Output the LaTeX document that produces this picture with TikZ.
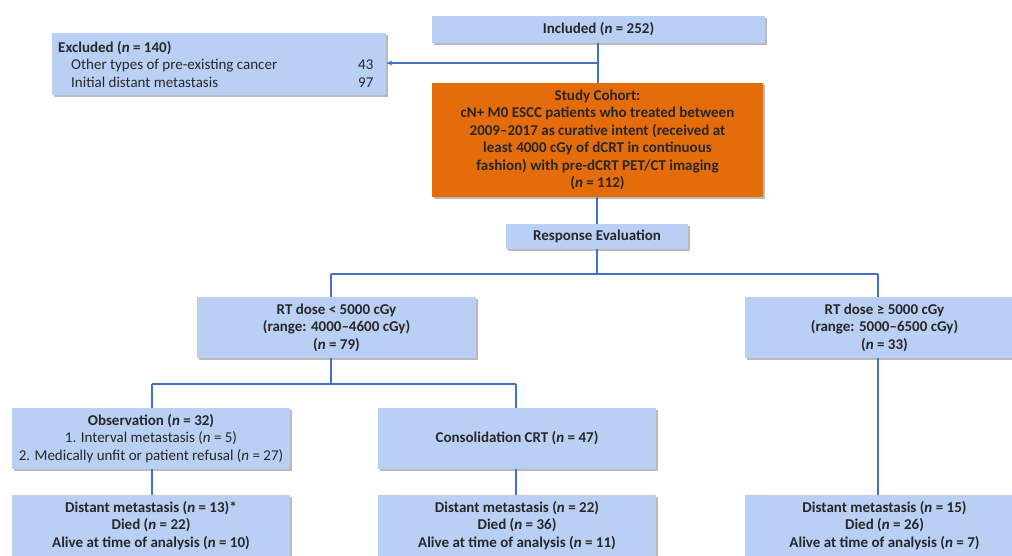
\documentclass[tikz,border=0pt]{standalone}
\usepackage{fontspec}
\setmainfont{Carlito}
\usetikzlibrary{shadows,arrows.meta}
\definecolor{boxblue}{RGB}{185,207,243}
\definecolor{cohortorange}{RGB}{228,108,10}
\definecolor{lineblue}{RGB}{68,114,196}
\definecolor{txt}{RGB}{40,40,40}
\tikzset{
  box/.style={rectangle, fill=boxblue, inner sep=0pt, align=center, text=txt,
    font=\fontsize{15}{17.5}\selectfont,
    drop shadow={shadow xshift=2pt, shadow yshift=-2pt, fill=black!45, opacity=0.6}},
  conn/.style={draw=lineblue, line width=1.4pt},
}
\begin{document}
\begin{tikzpicture}[x=1pt,y=-1pt]
\useasboundingbox (0,0) rectangle (1012,555);
\node[box, minimum width=333pt, minimum height=27pt] (incl) at (598.5,29.5) {\textbf{Included (\textit{n} = 252)}};
\node[box, minimum height=62pt, inner xsep=6pt, anchor=west] (excl) at (52,64)
 {\makebox[322pt][l]{\textbf{Excluded (\textit{n} = 140)}}\\
  \makebox[322pt][l]{\hspace*{13pt}\makebox[287pt][l]{Other types of pre-existing cancer}43}\\
  \makebox[322pt][l]{\hspace*{13pt}\makebox[287pt][l]{Initial distant metastasis}97}};
\node[box, fill=cohortorange, minimum width=331pt, minimum height=114pt] (coh) at (597.5,140)
 {\textbf{Study Cohort:}\\
  \textbf{cN+ M0 ESCC patients who treated between}\\
  \textbf{2009--2017 as curative intent (received at}\\
  \textbf{least 4000 cGy of dCRT in continuous}\\
  \textbf{fashion) with pre-dCRT PET/CT imaging}\\
  \textbf{(\textit{n} = 112)}};
\node[box, minimum width=182pt, minimum height=25pt] (resp) at (597,236.5) {\textbf{Response Evaluation}};
\node[box, minimum width=279pt, minimum height=61pt] (low) at (336.5,327.5)
 {\textbf{RT dose < 5000 cGy}\\\textbf{(range: 4000--4600 cGy)}\\\textbf{(\textit{n} = 79)}};
\node[box, minimum width=279pt, minimum height=61pt] (high) at (884.5,327.5)
 {\textbf{RT dose ≥ 5000 cGy}\\\textbf{(range: 5000--6500 cGy)}\\\textbf{(\textit{n} = 33)}};
\node[box, minimum width=278pt, minimum height=61pt] (obs) at (151,438.5)
 {\textbf{Observation (\textit{n} = 32)}\\1. Interval metastasis (\textit{n} = 5)\\2. Medically unfit or patient refusal (\textit{n} = 27)};
\node[box, minimum width=278pt, minimum height=61pt] (cons) at (517,438.5)
 {\textbf{Consolidation CRT (\textit{n} = 47)}};
\node[box, minimum width=278pt, minimum height=61pt] (out1) at (151,525.5)
 {\textbf{Distant metastasis (\textit{n} = 13)*}\\\textbf{Died (\textit{n} = 22)}\\\textbf{Alive at time of analysis (\textit{n} = 10)}};
\node[box, minimum width=278pt, minimum height=61pt] (out2) at (517,525.5)
 {\textbf{Distant metastasis (\textit{n} = 22)}\\\textbf{Died (\textit{n} = 36)}\\\textbf{Alive at time of analysis (\textit{n} = 11)}};
\node[box, minimum width=279pt, minimum height=61pt] (out3) at (884.5,525.5)
 {\textbf{Distant metastasis (\textit{n} = 15)}\\\textbf{Died (\textit{n} = 26)}\\\textbf{Alive at time of analysis (\textit{n} = 7)}};
% junction coordinates
\coordinate (exj) at (598,63);
\coordinate (hsplit) at (597,274);
\coordinate (hl) at (331,274);
\coordinate (hr) at (878,274);
\coordinate (lsplit) at (331,384);
\coordinate (ll) at (152,384);
\coordinate (lr) at (516,384);
% connectors
\draw[conn] (incl.south -| exj) -- (coh.north -| exj);
\draw[conn, -{Stealth[length=6pt,width=5pt]}] (exj) -- (excl.east |- exj);
\draw[conn] (coh.south -| hsplit) -- (resp.north -| hsplit);
\draw[conn] (resp.south -| hsplit) -- (hsplit);
\draw[conn] (hl) -- (hr);
\draw[conn] (hl) -- (low.north -| hl);
\draw[conn] (hr) -- (high.north -| hr);
\draw[conn] (low.south -| lsplit) -- (lsplit);
\draw[conn] (ll) -- (lr);
\draw[conn] (ll) -- (obs.north -| ll);
\draw[conn] (lr) -- (cons.north -| lr);
\draw[conn] (obs.south -| ll) -- (out1.north -| ll);
\draw[conn] (cons.south -| lr) -- (out2.north -| lr);
\draw[conn] (high.south -| hr) -- (out3.north -| hr);
\end{tikzpicture}
\end{document}
